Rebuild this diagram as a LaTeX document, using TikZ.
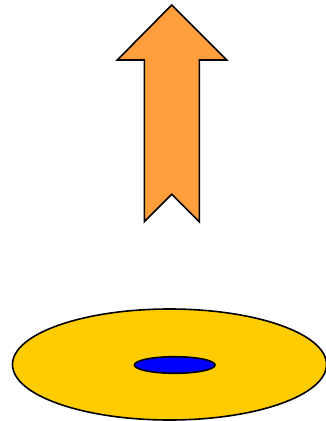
\documentclass[tikz,border=0pt]{standalone}
\usepackage{tikz}
\definecolor{arroworange}{HTML}{FF9E3A}
\definecolor{diskyellow}{HTML}{FFCC00}
\definecolor{holeblue}{HTML}{0000FF}

\begin{document}
\begin{tikzpicture}[x=1pt, y=-1pt,
    outline/.style={draw=black, line width=1.6pt, line join=miter},
    upshape/.style={outline, fill=arroworange},
    disk/.style={outline, fill=diskyellow},
    hole/.style={outline, fill=holeblue}]
  \useasboundingbox (0,0) rectangle (326,421);
  \begin{scope}
    \clip (0,0) rectangle (326,421);
    \draw[disk] (169.5,364.5) ellipse [x radius=157, y radius=55.5];
  \end{scope}
  \draw[hole] (174.7,365) ellipse [x radius=40.3, y radius=8.3];
  \draw[upshape] (171.7,5) -- (226.7,60) -- (199.3,60) -- (199.3,221.7)
    -- (171.7,194.3) -- (144.3,221.7) -- (144.3,60) -- (117.3,60) -- cycle;
\end{tikzpicture}
\end{document}
